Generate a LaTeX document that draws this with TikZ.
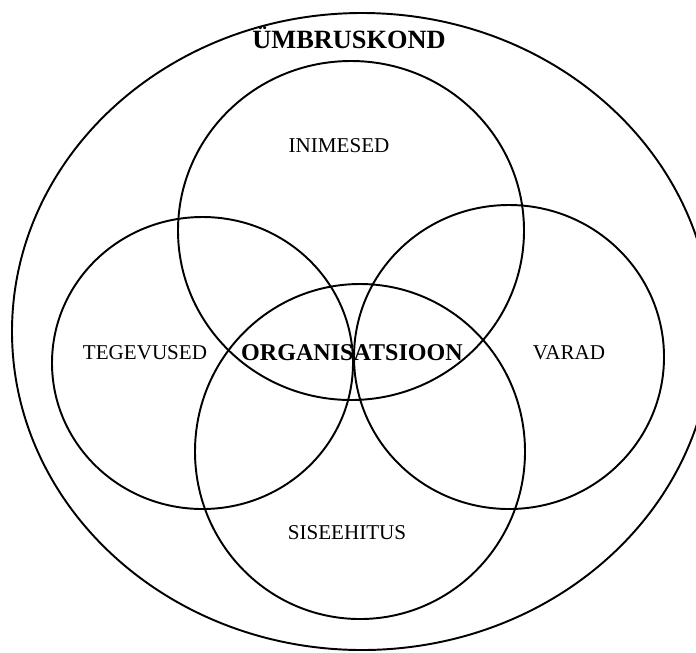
\documentclass[tikz,border=0pt]{standalone}
\usepackage{fontspec}
\setmainfont{Liberation Serif}

\begin{document}
\begin{tikzpicture}[line width=1.1pt,
  every node/.style={anchor=base,inner sep=0pt,font=\fontsize{12}{14}\selectfont},
  big/.style={font=\fontsize{15}{17}\selectfont\bfseries},
  mid/.style={font=\fontsize{13.7}{16}\selectfont\bfseries}]
\useasboundingbox (0,0) rectangle (13.92,-13.04);
\draw (7.24,-6.63) ellipse [x radius=7.0,y radius=6.37];
\draw (7.02,-4.61) ellipse [x radius=3.46,y radius=3.39];
\draw (4.05,-7.26) ellipse [x radius=3.01,y radius=2.92];
\draw (10.18,-7.14) ellipse [x radius=3.10,y radius=3.04];
\draw (7.2,-9.03) ellipse [x radius=3.3,y radius=3.35];
\node[big] (u) at (6.98,-0.96) {ÜMBRUSKOND};
\node (i) at (6.78,-3.04) {INIMESED};
\node (t) at (2.9,-7.18) {TEGEVUSED};
\node[mid] (o) at (7.04,-7.2) {ORGANISATSIOON};
\node (v) at (11.38,-7.18) {VARAD};
\node (s) at (6.94,-10.78) {SISEEHITUS};
\end{tikzpicture}
\end{document}
